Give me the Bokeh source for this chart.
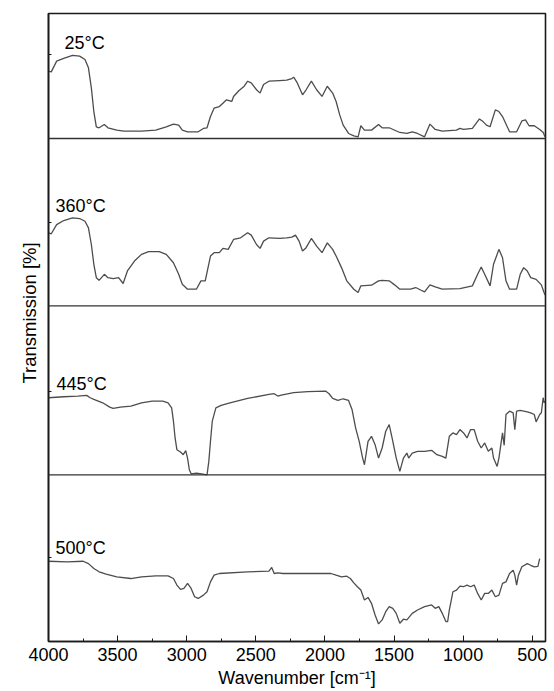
from bokeh.plotting import figure
from bokeh.models import Range1d, Span, Label, FixedTicker, Title
from bokeh.embed import file_html
from bokeh.resources import INLINE

# ---------------- data ----------------
temps = ["25°C", "360°C", "445°C", "500°C"]

wn_25 = [4000, 3980, 3941, 3890, 3826, 3775, 3736, 3711, 3690, 3672, 3654, 3634, 3596, 3570,
         3506, 3455, 3327, 3224, 3148, 3096, 3058, 3032, 2994, 2917, 2879, 2853, 2828, 2802,
         2764, 2738, 2712, 2674, 2661, 2623, 2584, 2559, 2533, 2495, 2469, 2444, 2405, 2328,
         2277, 2239, 2226, 2200, 2162, 2136, 2098, 2060, 2021, 1983, 1944, 1919, 1893, 1868,
         1829, 1791, 1760, 1740, 1714, 1663, 1612, 1586, 1535, 1458, 1407, 1368, 1330, 1279,
         1240, 1202, 1151, 1048, 1023, 997, 933, 882, 856, 831, 805, 767, 741, 715, 664, 613,
         575, 549, 523, 485, 446, 420, 408]
tr_25 = [40.2, 39.8, 46.2, 47.8, 49.6, 49.2, 47.2, 42.2, 30.2, 16.1, 7.0, 6.4, 8.4, 6.4,
         5.0, 4.4, 4.4, 5.0, 7.0, 8.6, 8.0, 5.0, 4.0, 4.0, 6.0, 6.4, 13.1, 18.1,
         19.1, 21.1, 23.1, 22.1, 25.1, 28.5, 31.2, 34.2, 33.2, 29.1, 27.1, 32.2, 34.2, 34.6,
         34.8, 35.8, 36.6, 33.2, 26.1, 29.1, 34.2, 29.1, 25.1, 31.2, 27.1, 22.1, 14.1, 8.0,
         3.0, 1.6, 1.0, 7.6, 5.0, 5.0, 8.4, 6.4, 6.4, 3.6, 3.0, 4.0, 3.0, 1.0,
         8.6, 5.4, 4.4, 5.0, 6.0, 5.4, 6.0, 11.7, 10.1, 8.0, 7.0, 17.1, 16.1, 13.1, 4.0, 4.0,
         10.5, 11.1, 7.6, 7.6, 5.4, 3.6, 1.0]

wn_360 = [4000, 3980, 3941, 3890, 3826, 3775, 3736, 3711, 3690, 3672, 3654, 3634, 3596, 3570,
          3532, 3493, 3460, 3429, 3378, 3327, 3276, 3199, 3148, 3096, 3058, 3032, 2994, 2930,
          2897, 2866, 2828, 2802, 2764, 2738, 2700, 2661, 2610, 2559, 2533, 2495, 2469, 2444,
          2405, 2328, 2277, 2239, 2213, 2187, 2162, 2136, 2098, 2060, 2021, 1983, 1944, 1919,
          1880, 1842, 1791, 1760, 1740, 1663, 1612, 1586, 1535, 1496, 1458, 1381, 1343, 1304,
          1279, 1240, 1202, 1151, 1023, 933, 895, 869, 844, 805, 780, 741, 715, 690, 664, 613,
          587, 562, 536, 511, 472, 434, 408]
tr_360 = [43.6, 43.0, 48.5, 50.9, 52.5, 52.1, 50.5, 46.5, 36.6, 24.8, 16.8, 15.2, 18.8, 16.8,
          16.2, 16.8, 13.3, 20.8, 26.7, 30.7, 32.3, 32.3, 30.7, 25.7, 18.8, 12.9, 9.9, 9.9,
          14.9, 14.9, 29.7, 31.7, 31.7, 34.3, 33.7, 39.6, 40.6, 43.6, 42.2, 36.6, 34.3, 38.6,
          40.6, 40.2, 40.6, 41.0, 42.2, 38.6, 32.7, 34.7, 40.2, 35.6, 31.7, 37.6, 33.7, 29.7,
          22.8, 14.9, 9.9, 7.9, 11.9, 12.3, 14.9, 15.2, 14.9, 12.5, 9.9, 9.9, 10.9, 9.3,
          8.3, 12.5, 11.3, 9.9, 10.3, 11.9, 18.8, 23.2, 18.8, 11.9, 24.8, 33.7, 28.7, 14.9, 9.9, 9.9,
          18.8, 22.8, 20.8, 16.8, 15.8, 12.5, 6.5]

wn_445 = [4000, 3890, 3788, 3724, 3698, 3672, 3608, 3557, 3532, 3480, 3404, 3327, 3250, 3173,
          3135, 3109, 3096, 3084, 3071, 3045, 3025, 3007, 2994, 2981, 2968, 2930, 2892, 2853,
          2840, 2828, 2815, 2789, 2751, 2687, 2559, 2405, 2367, 2341, 2316, 2226, 2124, 1996,
          1970, 1944, 1906, 1868, 1829, 1804, 1778, 1752, 1727, 1714, 1688, 1663, 1637, 1612,
          1586, 1560, 1535, 1514, 1484, 1458, 1432, 1407, 1394, 1368, 1330, 1279, 1228, 1190,
          1151, 1125, 1100, 1074, 1048, 1023, 997, 972, 946, 920, 895, 869, 844, 818, 792, 780,
          754, 741, 715, 703, 690, 664, 638, 626, 613, 587, 536, 511, 485, 472, 446, 434, 421,
          413, 408]
tr_445 = [46.0, 46.6, 47.0, 47.4, 46.0, 45.0, 43.0, 40.4, 39.6, 40.4, 41.0, 43.0, 44.0, 44.0,
          43.0, 40.0, 32.0, 22.0, 15.0, 13.6, 12.0, 14.4, 10.0, 3.0, 0.6, 1.0, 0.6, 0.0,
          8.0, 20.0, 32.0, 40.0, 41.4, 43.0, 45.6, 48.0, 48.4, 47.0, 47.6, 49.0, 49.6, 50.0,
          48.4, 45.6, 44.4, 45.4, 44.4, 39.0, 28.0, 20.0, 10.0, 6.0, 20.0, 23.0, 18.0, 10.0,
          16.0, 26.0, 30.0, 22.0, 10.0, 2.0, 10.0, 13.0, 10.0, 13.0, 14.0, 14.0, 14.6, 12.0,
          11.0, 10.0, 23.0, 25.0, 24.0, 27.0, 25.0, 22.0, 27.0, 27.0, 20.0, 16.0, 19.0, 14.0, 16.0, 10.0,
          5.0, 10.0, 25.0, 17.6, 36.0, 38.0, 37.0, 27.0, 38.0, 38.4, 37.6, 37.0, 36.0, 31.6, 36.0, 37.0, 46.0,
          43.0, 44.0]

wn_500 = [4000, 3864, 3749, 3711, 3672, 3634, 3583, 3506, 3404, 3327, 3224, 3135, 3096, 3071,
          3045, 3020, 2994, 2968, 2943, 2917, 2879, 2853, 2828, 2802, 2764, 2559, 2405, 2385,
          2367, 2341, 2303, 2047, 1957, 1919, 1880, 1842, 1816, 1791, 1765, 1740, 1714, 1688,
          1663, 1637, 1612, 1586, 1560, 1535, 1509, 1484, 1458, 1432, 1407, 1368, 1330, 1279,
          1228, 1202, 1176, 1151, 1125, 1112, 1100, 1074, 1048, 1023, 997, 972, 946, 920, 895,
          869, 844, 818, 792, 767, 741, 715, 690, 664, 638, 626, 613, 600, 575, 536, 511, 485,
          459, 446]
tr_500 = [47.9, 47.5, 47.9, 46.5, 43.6, 41.6, 40.2, 38.6, 37.6, 38.6, 39.2, 39.2, 37.6, 33.7,
          31.1, 31.7, 34.7, 31.7, 26.7, 25.7, 27.7, 29.7, 35.6, 39.6, 40.6, 41.6, 42.0, 44.2,
          40.6, 41.0, 40.6, 40.6, 40.6, 39.6, 38.6, 39.0, 37.6, 35.0, 32.7, 30.7, 24.8, 26.3,
          22.8, 15.8, 10.5, 12.9, 17.8, 20.8, 19.8, 16.8, 10.9, 13.3, 12.9, 16.8, 18.8, 20.8,
          21.8, 19.8, 20.8, 16.8, 11.9, 11.9, 18.8, 29.7, 30.7, 33.1, 32.7, 33.7, 32.7, 33.7, 28.7,
          24.8, 28.7, 28.7, 30.7, 26.7, 27.7, 34.7, 35.6, 40.6, 42.6, 39.6, 33.7, 39.6, 44.6, 46.5, 45.5, 44.6,
          44.9, 49.5]

xticks = [4000, 3500, 3000, 2500, 2000, 1500, 1000, 500]
panel_tick = 50  # reference level marked on the left edge of every panel

series = [(wn_25, tr_25), (wn_360, tr_360), (wn_445, tr_445), (wn_500, tr_500)]

# ---------------- layout ----------------
FRAME_W, FRAME_H = 497, 628
PX_PER_UNIT = 167.5 / 100.0
panel_bottom_px = [503.0, 335.7, 166.7, 0.0]      # distance of each panel's base above frame bottom
label_dx = [16, 7, 8, 7]
label_dy = [57.0, 59.6, 54.4, 56.0]
FONT = "Liberation Sans"
LINE = "#4d4d4d"
INK = "black"

span_units = FRAME_H / PX_PER_UNIT
p = figure(frame_width=FRAME_W, frame_height=FRAME_H,
           x_range=Range1d(4000, 404), y_range=Range1d(0, span_units),
           output_backend="svg", toolbar_location=None,
           min_border_left=48, min_border_right=9, min_border_top=13, min_border_bottom=50)
p.background_fill_color = "white"
p.border_fill_color = "white"
p.outline_line_color = "#1a1a1a"
p.outline_line_width = 1.6
p.xgrid.visible = False
p.ygrid.visible = False

names = ["p1", "p2", "p3", "default"]
for i, nm in enumerate(names):
    start = -panel_bottom_px[i] / PX_PER_UNIT
    if nm != "default":
        p.extra_y_ranges[nm] = Range1d(start, start + span_units)
for i, (wn, tr) in enumerate(series):
    rn = names[i]
    p.line(wn, tr, line_color=LINE, line_width=1.3, y_range_name=rn)
    if i < 3:
        p.add_layout(Span(location=0, dimension="width", y_range_name=rn,
                          line_color="#333333", line_width=1.3))
    p.add_layout(Label(x=4000, y=label_dy[i], x_offset=label_dx[i], y_range_name=rn,
                       text=temps[i], text_font=FONT, text_font_size="18px",
                       text_color=INK, text_baseline="alphabetic"))

# y title: starts ~258 px above the frame bottom and reads upwards
p.add_layout(Title(text="Transmission [%]", align="left", offset=258, standoff=18,
                   text_font=FONT, text_font_size="18.5px", text_font_style="normal",
                   text_color=INK), "left")

# x axis
xa = p.xaxis[0]
xa.ticker = FixedTicker(ticks=xticks,
                        minor_ticks=[t - 250 for t in xticks] + [xticks[-1] - 250])
xa.axis_label = "Wavenumber [cm\u207b\u00b9]"
xa.axis_label_text_font = FONT
xa.axis_label_text_font_size = "18px"
xa.axis_label_text_font_style = "normal"
xa.axis_label_text_color = INK
xa.axis_label_standoff = 4
xa.major_label_text_font = FONT
xa.major_label_text_font_size = "18px"
xa.major_label_text_color = INK
xa.major_label_standoff = 6
xa.major_tick_in = 6
xa.major_tick_out = 0
xa.minor_tick_in = 3
xa.minor_tick_out = 0
xa.axis_line_color = "#1a1a1a"
xa.axis_line_width = 1.6
xa.major_tick_line_color = "#1a1a1a"
xa.minor_tick_line_color = "#1a1a1a"

# y axis: one short inward tick per panel, no numbers
ya = p.yaxis[0]
yt = [b / PX_PER_UNIT + panel_tick for b in panel_bottom_px]
ya.ticker = FixedTicker(ticks=yt, minor_ticks=[])
ya.major_label_overrides = {t: "" for t in yt}
ya.major_label_text_font_size = "10px"
ya.major_label_standoff = 10
ya.major_tick_in = 3
ya.major_tick_out = 0
ya.axis_line_color = "#1a1a1a"
ya.axis_line_width = 1.6
ya.major_tick_line_color = "#1a1a1a"

open("out.html", "w").write(file_html(p, INLINE))
